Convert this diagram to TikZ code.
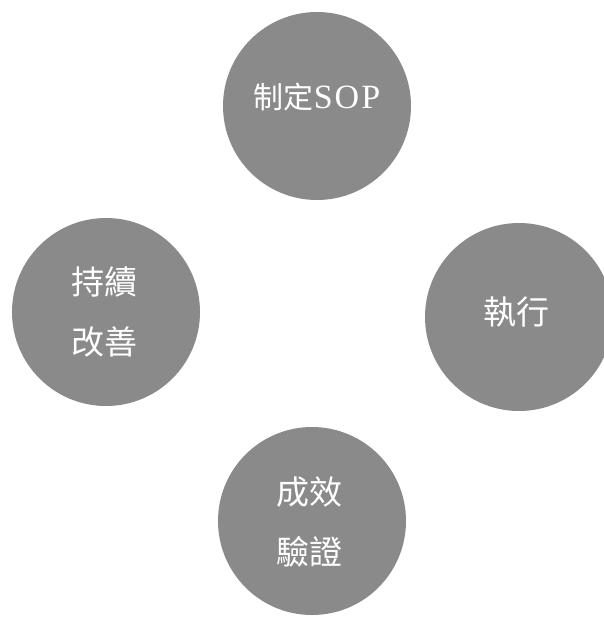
\documentclass[tikz,border=0pt]{standalone}
\usepackage{fontspec}
\newfontfamily\cjk{Noto Sans CJK TC}
\newfontfamily\latin[LetterSpace=6]{Liberation Serif}
\definecolor{discgray}{RGB}{138,138,138}
\tikzset{
  disc/.style={circle, fill=discgray, draw=none, minimum size=188pt, inner sep=0pt},
  disclabel/.style={text=white, align=center, font=\cjk\fontsize{33}{60}\selectfont},
}
\begin{document}
\begin{tikzpicture}[x=1pt,y=-1pt]
\useasboundingbox (0,0) rectangle (603,618);
\node[disc] (sop) at (317,106) {};
\node[disclabel, font=\cjk\fontsize{30}{56}\selectfont] (sopt) at (317,97) {制定{\latin\fontsize{34}{56}\selectfont SOP}};
\node[disc] (exec) at (519,317) {};
\node[disclabel] (exect) at (516,312) {執行};
\node[disc] (verify) at (312,521) {};
\node[disclabel] (verifyt) at (309,522) {成效\\驗證};
\node[disc] (improve) at (106,312) {};
\node[disclabel] (improvet) at (104,312) {持續\\改善};
\end{tikzpicture}
\end{document}
